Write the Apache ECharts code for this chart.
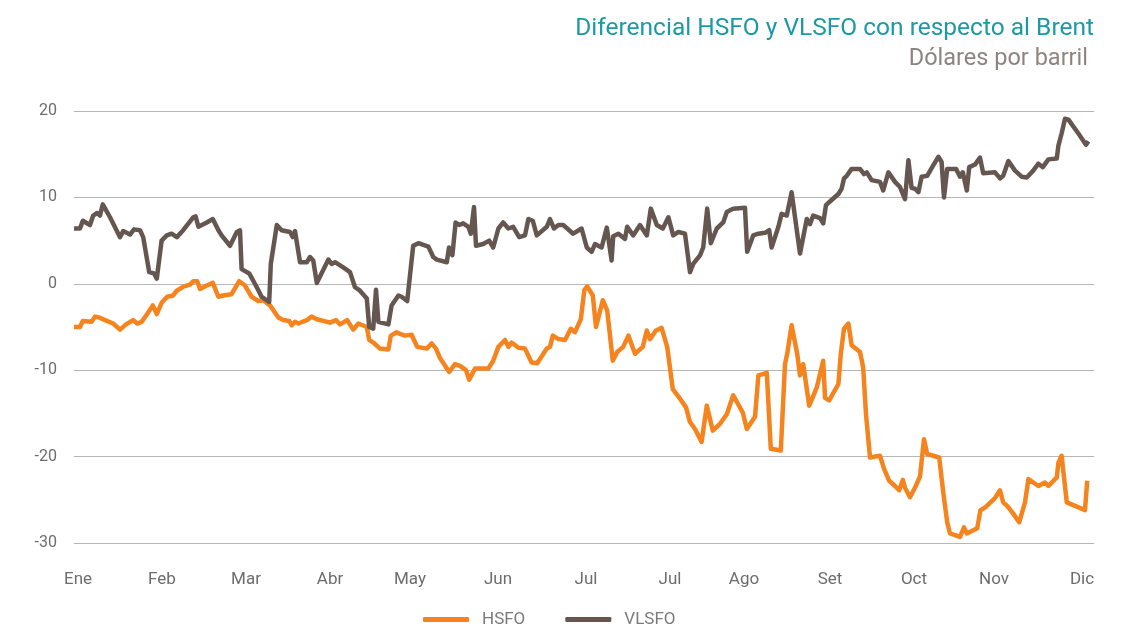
<!DOCTYPE html>
<html>
<head>
<meta charset="utf-8">
<script src="https://cdn.jsdelivr.net/npm/echarts@6/dist/echarts.min.js"></script>
<style>
  html, body { margin: 0; padding: 0; background: #fff; }
  #chart { width: 1126px; height: 628px; }
</style>
</head>
<body>
<div id="chart"></div>
<script>
// meses del eje X y su posición (día hábil aprox.)
const months = ['Ene', 'Feb', 'Mar', 'Abr', 'May', 'Jun', 'Jul', 'Jul', 'Ago', 'Set', 'Oct', 'Nov', 'Dic'];
const monthPos = [1, 22, 43, 64, 84, 106, 128, 149, 167.5, 189, 210, 230, 252];
const yTicks = [-30, -20, -10, 0, 10, 20];

// HSFO: día, valor
const hsfoDay = [0, 1.5, 2.2, 4.4, 5.25, 6.3, 7.75, 9.8, 11.5, 13, 14.8, 15.8, 16.9, 18.3, 19.7, 20.7, 21.9, 23.3, 24.8, 25.7,
  27.5, 29, 29.8, 30.8, 31.5, 33.2, 34.7, 36.1, 37.3, 39.4, 41.3, 42.75, 44.4, 46.1, 47.3, 49, 51.1, 52.3, 53.8, 54.4,
  55.25, 56.1, 58.2, 59.4, 60.7, 64, 65.5, 66.5, 68.3, 69.8, 71.1, 73.2, 73.8, 74.8, 76.5, 78.6, 79.2, 80.7, 81.5, 82.75,
  84.4, 85.8, 88.2, 89.4, 90.5, 91.5, 93.8, 95.25, 96.5, 98, 98.8, 100.25, 103.6, 104.8, 106.1, 107.75, 108.6, 109.4, 111.1, 112.75,
  114.4, 115.8, 118.2, 119, 119.7, 121.1, 122.75, 124.2, 125.25, 126.7, 127.6, 128.3, 129.7, 130.5, 132.2, 133.3, 134.7, 135.8, 137.3, 138.6,
  140.25, 142.2, 143.2, 144, 145.5, 146.9, 148.3, 149.7, 151.5, 153, 154, 155.25, 156.9, 158.2, 159.7, 161.5, 163.2, 164.8, 167.2, 168.2,
  170.25, 171.1, 173.2, 174.2, 176.7, 177.75, 178.3, 179.4, 180.8, 181.5, 182.3, 183.8, 185.7, 187.3, 187.75, 188.8, 191.1, 191.7, 192.5, 193.6,
  194.4, 196.5, 197.3, 198, 199, 201.5, 202.5, 203.8, 205.25, 206.3, 207.2, 207.75, 209, 210.25, 211.5, 212.5, 213.3, 216.3, 217.3, 218.3,
  219, 221.5, 222.5, 223.2, 225.8, 226.6, 227.75, 230.25, 231.5, 232.3, 233.3, 234.8, 236.3, 237.75, 238.6, 241.1, 242.75, 243.6, 245.7, 246.1,
  246.9, 248.2, 252.75, 253.3];
const hsfo = [-5.0, -5.0, -4.3, -4.4, -3.8, -3.9, -4.2, -4.6, -5.3, -4.7, -4.2, -4.6, -4.4, -3.5, -2.5, -3.5, -2.2, -1.5, -1.35, -0.8,
  -0.3, -0.1, 0.3, 0.3, -0.6, -0.2, 0.1, -1.5, -1.35, -1.2, 0.3, -0.2, -1.5, -2.0, -1.9, -2.5, -3.9, -4.2, -4.3, -4.8,
  -4.4, -4.6, -4.2, -3.8, -4.1, -4.5, -4.2, -4.7, -4.2, -5.3, -4.6, -5.0, -6.5, -6.8, -7.5, -7.6, -6.0, -5.6, -5.8, -6.0,
  -5.9, -7.3, -7.5, -6.9, -7.5, -8.6, -10.2, -9.3, -9.5, -10.0, -11.1, -9.8, -9.8, -8.9, -7.3, -6.5, -7.3, -6.8, -7.4, -7.5,
  -9.1, -9.2, -7.5, -7.3, -6.0, -6.4, -6.5, -5.2, -5.6, -4.1, -0.7, -0.3, -1.35, -5.0, -1.9, -3.1, -8.9, -7.9, -7.3, -6.0,
  -8.1, -7.3, -5.4, -6.4, -5.4, -5.1, -7.3, -12.2, -13.3, -14.3, -16.0, -16.8, -18.3, -14.1, -17.0, -16.2, -15.1, -12.9, -14.9, -16.8,
  -15.4, -10.6, -10.3, -19.1, -19.3, -9.3, -8.1, -4.8, -8.1, -10.6, -9.3, -14.1, -12.0, -8.9, -13.2, -13.5, -11.6, -8.1, -5.2, -4.6,
  -7.1, -7.9, -9.7, -15.1, -20.1, -19.9, -21.4, -22.8, -23.4, -23.9, -22.7, -23.6, -24.7, -23.6, -22.3, -18.0, -19.7, -20.1, -24.1, -27.6,
  -28.9, -29.3, -28.2, -28.9, -28.3, -26.2, -25.9, -24.8, -23.9, -25.3, -25.7, -26.6, -27.6, -25.3, -22.6, -23.4, -23.0, -23.4, -22.4, -20.7,
  -19.9, -25.3, -26.2, -22.8];

// VLSFO: día, valor
const vlsfoDay = [0, 1.5, 2.2, 4, 4.8, 5.8, 6.5, 7.2, 9, 11.5, 12.3, 14, 15, 16.5, 17.3, 18.8, 20, 20.7, 21.9, 23.2,
  24.4, 25.7, 27.3, 29.8, 30.4, 31.1, 33.2, 34.7, 36.1, 36.9, 39, 40.7, 41.5, 41.9, 43.8, 45.7, 46.9, 48.8, 49.2, 49.7,
  50.7, 51.9, 54, 54.7, 55.25, 56.5, 58.2, 59, 59.8, 60.7, 63.6, 64.4, 65.25, 67.3, 69, 70.25, 71.5, 73.2, 73.8, 74.8,
  75.5, 76.1, 78.6, 79.4, 81.1, 81.9, 83.3, 84.8, 86.1, 88.6, 89.8, 90.7, 93.2, 93.75, 94.6, 95.4, 96.3, 97.3, 98.6, 99.2,
  100, 100.5, 102.3, 103.8, 104.8, 106.1, 107.3, 108.6, 109.8, 111.3, 112.75, 113.6, 114.7, 115.7, 118.2, 119, 120, 121.1, 122.3, 124.8,
  126.9, 128.2, 129.4, 130.25, 131.9, 133.2, 134.4, 134.8, 136.1, 137.75, 138.3, 139.8, 141.5, 143.2, 144.2, 145.7, 147.2, 148.6, 149.8, 151.1,
  152.75, 154, 154.8, 156.5, 157.3, 158.3, 159.2, 160.7, 162.3, 163.2, 164.8, 167.75, 168.3, 169.8, 171.1, 172.75, 173.8, 174.4, 176.1, 176.9,
  178.2, 179.4, 181.5, 183.2, 184, 184.8, 186.5, 187.3, 188, 189.4, 191.1, 191.9, 192.5, 193.2, 194.4, 196.5, 197.5, 198.2, 199.4, 201.5,
  202.3, 203.6, 205.25, 206.5, 207.75, 208.6, 209.4, 210.25, 211.1, 211.9, 213.3, 214.8, 216.1, 216.9, 217.5, 218.3, 220.5, 221.5, 222.2, 223.2,
  223.8, 225.25, 226.5, 227.3, 230.25, 231.5, 232.3, 233.6, 235.25, 236.9, 238.2, 239.8, 241.1, 242.2, 243.6, 245.7, 246.1, 246.9, 247.75, 248.6,
  251.1, 253, 253.6];
const vlsfo = [6.4, 6.4, 7.3, 6.8, 7.9, 8.2, 7.9, 9.2, 7.7, 5.4, 6.1, 5.7, 6.3, 6.2, 5.4, 1.35, 1.2, 0.6, 5.0, 5.6,
  5.8, 5.4, 6.2, 7.7, 7.8, 6.6, 7.1, 7.5, 6.2, 5.6, 4.4, 6.0, 6.2, 1.7, 1.2, -0.4, -1.5, -2.1, 2.3, 2.5,
  6.8, 6.2, 6.0, 5.4, 6.1, 2.5, 2.5, 3.1, 2.7, 0.1, 2.8, 2.3, 2.5, 1.9, 1.35, -0.4, -0.8, -1.7, -5.0, -5.2,
  -0.7, -4.4, -4.7, -2.5, -1.35, -1.5, -2.0, 4.4, 4.7, 4.3, 3.1, 2.8, 2.5, 4.2, 3.3, 7.1, 6.8, 7.0, 6.6, 5.8,
  8.9, 4.4, 4.6, 5.0, 4.2, 6.4, 7.1, 6.4, 6.6, 5.4, 5.6, 7.5, 7.3, 5.6, 6.6, 7.5, 6.4, 6.8, 6.8, 5.8,
  6.4, 4.2, 3.7, 4.6, 4.2, 6.5, 2.7, 5.5, 5.8, 5.2, 6.6, 5.6, 6.8, 5.6, 8.7, 6.8, 6.4, 7.7, 5.6, 6.0,
  5.8, 1.35, 2.3, 3.3, 4.2, 8.7, 4.7, 6.4, 7.1, 8.3, 8.7, 8.8, 3.7, 5.6, 5.8, 5.9, 6.2, 4.2, 6.6, 8.1,
  7.9, 10.6, 3.5, 7.5, 6.9, 7.9, 7.6, 7.0, 9.1, 9.7, 10.4, 11.0, 12.2, 12.5, 13.3, 13.3, 12.7, 12.9, 12.0, 11.8,
  10.8, 12.9, 11.8, 11.2, 9.8, 14.3, 11.1, 11.0, 10.6, 12.4, 12.5, 13.7, 14.7, 14.1, 10.0, 13.3, 13.3, 12.4, 12.9, 10.8,
  13.5, 13.8, 14.6, 12.8, 12.9, 12.2, 12.5, 14.2, 13.1, 12.4, 12.3, 13.1, 13.9, 13.5, 14.4, 14.5, 16.0, 17.4, 19.1, 19.0,
  17.4, 16.1, 16.5];

const pairs = (xs, ys) => xs.map((x, i) => [x, ys[i]]);

const myChart = echarts.init(document.getElementById('chart'));
const labelFont = 'Roboto, "Open Sans", sans-serif';

const option = {
  backgroundColor: '#ffffff',
  animation: false,
  title: [
    {
      text: 'Diferencial HSFO y VLSFO con respecto al Brent',
      right: 27,
      top: 11,
      textStyle: { color: '#1b9aa6', fontSize: 24.5, fontWeight: 'normal', fontFamily: labelFont }
    },
    {
      text: 'Dólares por barril',
      right: 33,
      top: 42,
      textStyle: { color: '#8c8480', fontSize: 23.5, fontWeight: 'normal', fontFamily: labelFont }
    }
  ],
  legend: {
    top: 606,
    left: 418,
    itemWidth: 46,
    itemHeight: 5,
    itemGap: 40,
    icon: 'roundRect',
    textStyle: { color: '#7a7a7a', fontSize: 17, fontFamily: labelFont, padding: [0, 0, 0, 8] },
    data: ['HSFO', 'VLSFO']
  },
  grid: { left: 74, right: 32, top: 111, bottom: 85 },
  xAxis: {
    type: 'value',
    min: 0,
    max: 255,
    axisLine: { show: false },
    axisTick: { show: false },
    splitLine: { show: false },
    axisLabel: {
      customValues: monthPos,
      margin: 28,
      color: '#6d6d6d',
      fontSize: 17,
      fontFamily: labelFont,
      formatter: (v) => months[monthPos.indexOf(v)]
    }
  },
  yAxis: {
    type: 'value',
    min: yTicks[0],
    max: yTicks[yTicks.length - 1],
    interval: 10,
    axisLine: { show: false },
    axisTick: { show: false },
    axisLabel: { color: '#6d6d6d', fontSize: 16, margin: 17, fontFamily: labelFont },
    splitLine: { lineStyle: { color: '#b9b6b3', width: 1 } }
  },
  series: [
    {
      name: 'HSFO',
      type: 'line',
      data: pairs(hsfoDay, hsfo),
      showSymbol: false,
      lineStyle: { color: '#f5841f', width: 4.5, join: 'round' },
      itemStyle: { color: '#f5841f' },
      z: 2
    },
    {
      name: 'VLSFO',
      type: 'line',
      data: pairs(vlsfoDay, vlsfo),
      showSymbol: false,
      lineStyle: { color: '#655750', width: 4.5, join: 'round' },
      itemStyle: { color: '#655750' },
      z: 3
    }
  ]
};
myChart.setOption(option);
</script>
</body>
</html>
